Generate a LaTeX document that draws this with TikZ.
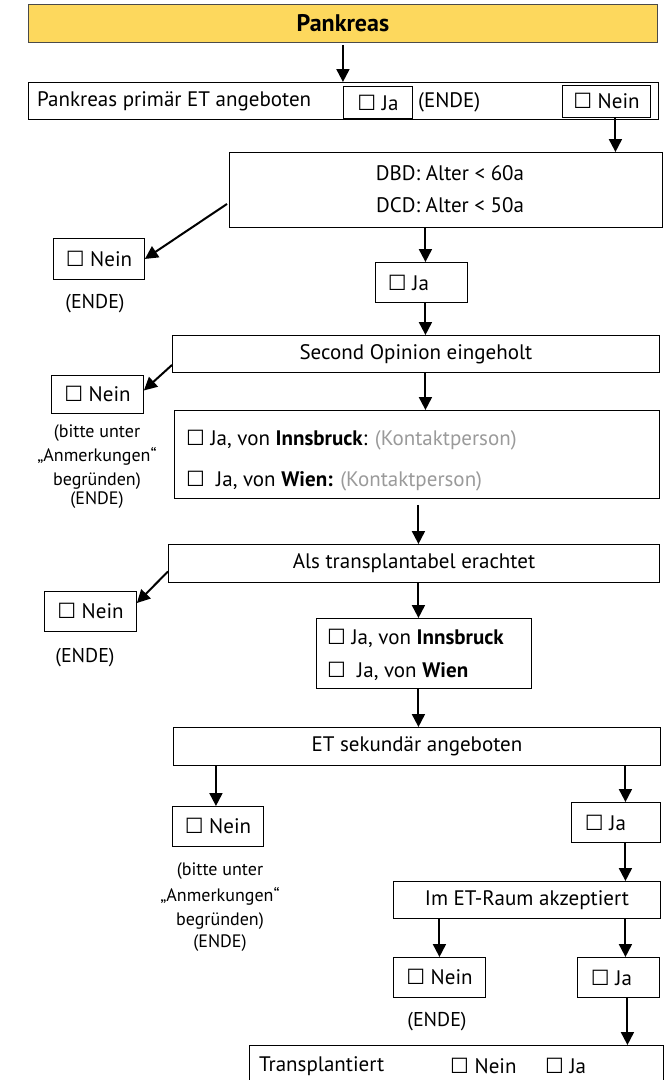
\documentclass[tikz,border=0pt]{standalone}
\usepackage{fontspec}
\setmainfont{PT Sans}
\newfontfamily\symf{DejaVu Sans}[Scale=1.0]
\usetikzlibrary{arrows.meta,calc}
\definecolor{titlefill}{HTML}{FDD85D}
\definecolor{titleline}{HTML}{4A4A4A}
\definecolor{contact}{HTML}{9A9A9A}
\newcommand\cbx{{\symf\char"2610}}
\begin{document}
\begin{tikzpicture}[x=1pt,y=-1pt,
  font=\fontsize{21}{25}\selectfont,
  box/.style={draw=black, line width=0.9pt, inner sep=0pt, anchor=north west},
  lbl/.style={inner sep=0pt, anchor=west},
  ende/.style={inner sep=0pt, font=\fontsize{20}{24}\selectfont},
  note/.style={inner sep=0pt, align=center, font=\fontsize{18}{24}\selectfont},
  arr/.style={-{Triangle[length=13pt,width=13pt]}, line width=2pt}]
\useasboundingbox (0,0) rectangle (668,1080);
\clip (0,0) rectangle (668,1080);

% title
\node[box, draw=titleline, fill=titlefill, minimum width=629pt, minimum height=38pt] (title) at (28,4) {\fontsize{24}{28}\selectfont\bfseries Pankreas};

% primary offer
\node[box, minimum width=630pt, minimum height=37pt] (q1) at (28,82) {};
\node[lbl] (q1t) at (37,101) {Pankreas primär ET angeboten};
\node[box, minimum width=69pt, minimum height=32pt] (q1ja) at (343,86) {\cbx\ Ja};
\node[lbl] (q1ende) at (418,102) {(ENDE)};
\node[box, minimum width=88pt, minimum height=32pt] (q1nein) at (562,85) {\cbx\ Nein};

% age
\node[box, minimum width=433pt, minimum height=75pt] (age) at (229,152) {};
\node[inner sep=0pt] (ageA) at (450,173) {DBD: Alter < 60a};
\node[inner sep=0pt] (ageB) at (450,205) {DCD: Alter < 50a};
\node[box, minimum width=91pt, minimum height=41pt] (ageno) at (53,238) {\cbx\ Nein};
\node[ende] (ageende) at (95,304) {(ENDE)};
\node[box, minimum width=92pt, minimum height=40pt] (ageja) at (375,262) {\cbx\ Ja\kern26pt};

% second opinion
\node[box, minimum width=487pt, minimum height=37pt] (so) at (172,335) {Second Opinion eingeholt};
\node[box, minimum width=92pt, minimum height=38pt] (sono) at (51,375) {\cbx\ Nein};
\node[note] (sonote) at (97,467) {(bitte unter\\„Anmerkungen“\\begründen)\\[-5pt](ENDE)};
\node[box, minimum width=485pt, minimum height=88pt] (soja) at (174,410) {};
\node[lbl] (soja1) at (186,440) {\cbx\ Ja, von \textbf{Innsbruck}: \textcolor{contact}{(Kontaktperson)}};
\node[lbl] (soja2) at (186,481) {\cbx\ \ Ja, von \textbf{Wien:} \textcolor{contact}{(Kontaktperson)}};

% transplantable
\node[box, minimum width=491pt, minimum height=38pt] (tr) at (168,544) {Als transplantabel erachtet};
\node[box, minimum width=92pt, minimum height=40pt] (trno) at (44,591) {\cbx\ Nein};
\node[ende] (trende) at (85,658) {(ENDE)};
\node[box, minimum width=215pt, minimum height=70pt] (trja) at (316,618) {};
\node[lbl] (trja1) at (327,638) {\cbx\ Ja, von \textbf{Innsbruck}};
\node[lbl] (trja2) at (327,671) {\cbx\ \ Ja, von \textbf{Wien}};

% secondary offer
\node[box, minimum width=487pt, minimum height=38pt] (sek) at (173,727) {ET sekundär angeboten};
\node[box, minimum width=91pt, minimum height=40pt] (sekno) at (172,806) {\cbx\ Nein};
\node[note] (seknote) at (220,907) {(bitte unter\\[2pt]„Anmerkungen“\\begründen)\\[-2pt](ENDE)};
\node[box, minimum width=89pt, minimum height=40pt] (sekja) at (571,802) {\cbx\ Ja\kern21pt};

% ET room
\node[box, minimum width=267pt, minimum height=37pt] (raum) at (393,881) {Im ET-Raum akzeptiert};
\node[box, minimum width=92pt, minimum height=40pt] (raumno) at (393,957) {\cbx\ Nein};
\node[ende] (raumende) at (437,1022) {(ENDE)};
\node[box, minimum width=82pt, minimum height=40pt] (raumja) at (577,957) {\cbx\ Ja\kern14pt};

% transplanted
\node[box, minimum width=414pt, minimum height=50pt] (tx) at (249,1045) {};
\node[lbl] (txt) at (259,1066) {Transplantiert};
\node[lbl] (txno) at (450,1066) {\cbx\ Nein};
\node[lbl] (txja) at (545,1066) {\cbx\ Ja};

% connectors
\draw[arr, shorten <=2pt] (title.south) -- (title.south |- q1.north);
\draw[arr] ($(q1nein.south)+(9,0)$) -- ($(q1nein.south |- age.north)+(9,0)$);
\draw[arr] ($(age.west)+(-2,14)$) -- (ageno.east);
\draw[arr] ($(ageja.north |- age.south)+(4,0)$) -- ($(ageja.north)+(4,0)$);
\draw[arr] ($(ageja.south)+(4,0)$) -- ($(ageja.south |- so.north)+(4,0)$);
\draw[arr] ($(so.west)+(0,11)$) -- ($(sono.east)+(0,-4)$);
\draw[arr] ($(so.south)+(9.5,0)$) -- ($(so.south |- soja.north)+(9.5,0)$);
\draw[arr, shorten <=6pt] ($(soja.south)+(1.5,0)$) -- ($(soja.south |- tr.north)+(1.5,0)$);
\draw[arr] ($(tr.west)+(0,8)$) -- ($(trno.north east)+(0,12)$);
\draw[arr] ($(trja.north |- tr.south)+(-5.5,0)$) -- ($(trja.north)+(-5.5,0)$);
\draw[arr] ($(trja.south)+(-5.5,0)$) -- ($(trja.south |- sek.north)+(-5.5,0)$);
\draw[arr] ($(sekno.north |- sek.south)+(-2,0)$) -- ($(sekno.north)+(-2,0)$);
\draw[arr] ($(sekja.north |- sek.south)+(9.5,0)$) -- ($(sekja.north)+(9.5,0)$);
\draw[arr] ($(sekja.south)+(9.5,0)$) -- ($(sekja.south |- raum.north)+(9.5,0)$);
\draw[arr] (raumno.north |- raum.south) -- (raumno.north);
\draw[arr] ($(raumja.north |- raum.south)+(7,0)$) -- ($(raumja.north)+(7,0)$);
\draw[arr] ($(raumja.south)+(9,0)$) -- ($(raumja.south |- tx.north)+(9,0)$);
\end{tikzpicture}
\end{document}
